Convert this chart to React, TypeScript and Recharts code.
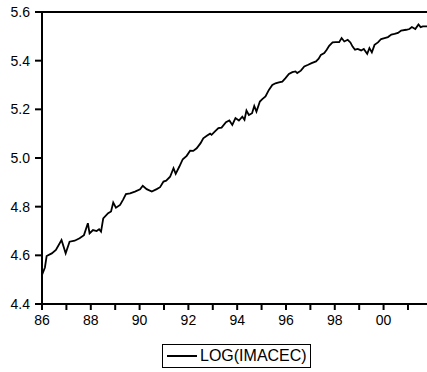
import React from 'react';
import { LineChart, Line, XAxis, YAxis, ReferenceLine, Legend } from 'recharts';

// decimal year, log level
const years = [
  1986.0, 1986.12, 1986.19, 1986.4, 1986.57, 1986.8, 1986.97, 1987.13, 1987.34, 1987.54,
  1987.72, 1987.88, 1987.95, 1988.09, 1988.24, 1988.34, 1988.42, 1988.51, 1988.71, 1988.83,
  1988.92, 1989.03, 1989.2, 1989.33, 1989.44, 1989.61, 1989.81, 1990.02, 1990.13, 1990.29,
  1990.5, 1990.7, 1990.84, 1990.98, 1991.09, 1991.25, 1991.39, 1991.48, 1991.63, 1991.77,
  1991.93, 1992.07, 1992.2, 1992.34, 1992.5, 1992.61, 1992.77, 1992.89, 1992.95, 1993.09,
  1993.23, 1993.36, 1993.54, 1993.68, 1993.8, 1993.93, 1994.07, 1994.21, 1994.3, 1994.38,
  1994.48, 1994.61, 1994.7, 1994.79, 1994.93, 1995.03, 1995.16, 1995.3, 1995.44, 1995.57,
  1995.71, 1995.85, 1995.98, 1996.12, 1996.26, 1996.39, 1996.46, 1996.61, 1996.75, 1996.91,
  1997.05, 1997.23, 1997.34, 1997.43, 1997.57, 1997.67, 1997.77, 1997.91, 1998.04, 1998.18,
  1998.28, 1998.39, 1998.53, 1998.64, 1998.73, 1998.83, 1998.94, 1999.08, 1999.19, 1999.26,
  1999.33, 1999.42, 1999.52, 1999.63, 1999.77, 1999.9, 2000.04, 2000.18, 2000.32, 2000.45,
  2000.59, 2000.72, 2000.93, 2001.06, 2001.16, 2001.3, 2001.43, 2001.52, 2001.61, 2001.78,
];

const logImacec = [
  4.52, 4.55, 4.597, 4.608, 4.622, 4.663, 4.608, 4.656, 4.66, 4.67,
  4.683, 4.732, 4.69, 4.704, 4.7, 4.707, 4.697, 4.752, 4.773, 4.78,
  4.817, 4.796, 4.807, 4.83, 4.852, 4.855, 4.862, 4.871, 4.886, 4.872,
  4.862, 4.872, 4.88, 4.903, 4.907, 4.923, 4.958, 4.935, 4.965, 4.995,
  5.009, 5.03, 5.029, 5.04, 5.061, 5.081, 5.092, 5.1, 5.095, 5.109,
  5.123, 5.125, 5.147, 5.154, 5.136, 5.164, 5.154, 5.17, 5.157, 5.195,
  5.177, 5.184, 5.214, 5.191, 5.232, 5.242, 5.253, 5.28, 5.3, 5.307,
  5.311, 5.314, 5.328, 5.345, 5.353, 5.356, 5.349, 5.359, 5.376, 5.383,
  5.39, 5.397, 5.408, 5.424, 5.431, 5.445, 5.461, 5.475, 5.476, 5.476,
  5.493, 5.479, 5.486, 5.475, 5.458, 5.445, 5.448, 5.442, 5.448, 5.438,
  5.428, 5.452, 5.434, 5.465, 5.475, 5.489, 5.493, 5.497, 5.507, 5.51,
  5.514, 5.524, 5.527, 5.53, 5.538, 5.53, 5.549, 5.538, 5.541, 5.541,
];

const xTicks = [1986, 1987, 1988, 1989, 1990, 1991, 1992, 1993, 1994, 1995, 1996, 1997, 1998, 1999, 2000, 2001];
const yTicks = [4.4, 4.6, 4.8, 5.0, 5.2, 5.4, 5.6];
const seriesName = 'LOG(IMACEC)';

const data = years.map((t, i) => ({ t, v: logImacec[i] }));

const font = '"Liberation Sans", Arial, sans-serif';

const LegendBox = () => (
  <div style={{ height: 28, fontFamily: font }}>
    <div
      style={{
        boxSizing: 'border-box',
        height: 24,
        border: '1.5px solid #000',
        display: 'flex',
        alignItems: 'center',
        padding: '0 3px 0 4px',
        background: '#fff',
      }}
    >
      <span style={{ display: 'inline-block', width: 30, borderTop: '2px solid #000', marginRight: 3 }} />
      <span style={{ fontSize: 16, color: '#000', lineHeight: '16px' }}>{seriesName}</span>
    </div>
  </div>
);

export default function App() {
  return (
    <div style={{ position: 'absolute', left: 0, top: 0, background: '#fff' }}>
      <LineChart width={427} height={372} data={data} margin={{ top: 12, right: 0, bottom: 0, left: 0 }}>
        <XAxis
          dataKey="t"
          type="number"
          domain={[1986, 2001.78]}
          ticks={xTicks}
          interval={0}
          tickFormatter={(v: number) => (v % 2 === 0 ? String(v % 100).padStart(2, '0') : '')}
          tickSize={6}
          tickMargin={5}
          height={40}
          stroke="#000"
          strokeWidth={2}
          tick={{ fill: '#000', fontSize: 14, fontFamily: font }}
          allowDataOverflow
        />
        <YAxis
          type="number"
          domain={[4.4, 5.6]}
          ticks={yTicks}
          interval={0}
          tickFormatter={(v: number) => v.toFixed(1)}
          tickSize={7}
          tickMargin={5}
          width={42}
          stroke="#000"
          strokeWidth={2}
          tick={{ fill: '#000', fontSize: 14, fontFamily: font }}
        />
        <ReferenceLine y={5.6} stroke="#000" strokeWidth={2} />
        <Line
          type="linear"
          dataKey="v"
          name={seriesName}
          stroke="#000"
          strokeWidth={1.8}
          dot={false}
          isAnimationActive={false}
        />
        <Legend verticalAlign="bottom" content={<LegendBox />} wrapperStyle={{ left: 162, width: 'auto' }} />
      </LineChart>
    </div>
  );
}
